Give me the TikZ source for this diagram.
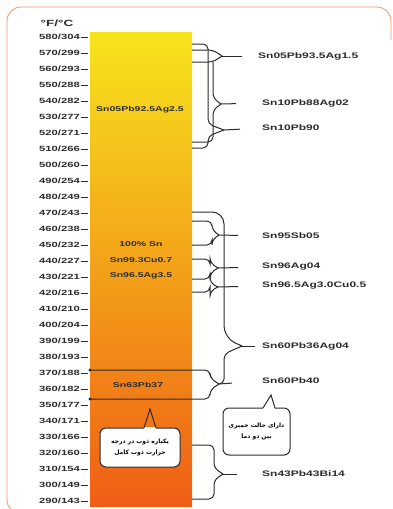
\documentclass[tikz,border=0pt]{standalone}
\usepackage{fontspec}
\setmainfont{Liberation Sans}[FakeStretch=1.5]
\newfontfamily\farsi[Script=Arabic]{DejaVu Sans}
\TeXXeTstate=1
\definecolor{framec}{HTML}{EE9A6C}
\definecolor{bartop}{HTML}{F7E41C}
\definecolor{barmid}{HTML}{F8AE1E}
\definecolor{barbot}{HTML}{EF5E16}
\definecolor{ink}{HTML}{2B2B2B}
\tikzset{
  degree/.style={anchor=east, inner sep=0pt, text=ink, font=\fontsize{7.5}{8}\selectfont\bfseries},
  alloy/.style={anchor=west, inner sep=0pt, text=ink, font=\fontsize{8}{9}\selectfont\bfseries},
  inbar/.style={inner sep=0pt, text=ink, font=\fontsize{7}{8}\selectfont\bfseries},
  bracket/.style={draw=ink, line width=1pt, rounded corners=5pt},
  callout/.style={draw=ink, fill=white, line width=1pt, rounded corners=6pt, align=center,
    font=\farsi\fontsize{6}{11}\selectfont\bfseries}
}
\begin{document}
\begin{tikzpicture}[x=1pt,y=-1pt]
\useasboundingbox (0,0) rectangle (393,509);
\draw[framec, line width=0.9pt, rounded corners=14pt] (40,514) -- (7,514) -- (7,7) -- (391,7) -- (391,40);

\node[inbar, font=\fontsize{9}{10}\selectfont\bfseries] (unit) at (57,23) {°F/°C};
\foreach \degf/\degc [count=\i from 0] in {580/304,570/299,560/293,550/288,540/282,530/277,520/271,510/266,500/260,490/254,480/249,470/243,460/238,450/232,440/227,430/221,420/216,410/210,400/204,390/199,380/193,370/188,360/182,350/177,340/171,330/166,320/160,310/154,300/149,290/143}{
  \node[degree] (t\i) at (80,{37+16*\i}) {\degf/\degc};
  \draw[ink, line width=0.7pt] ([xshift=1pt]t\i.east) -- ++(7,0);
}

\shade[top color=bartop, middle color=barmid, bottom color=barbot] (90,32) rectangle (192,506);

\node[inbar] (sn05in) at (140,110) {Sn05Pb92.5Ag2.5};
\node[inbar] (snpure) at (141,244) {100\% Sn};
\node[inbar] (sncu) at (141,260) {Sn99.3Cu0.7};
\node[inbar] (snag) at (141,276) {Sn96.5Ag3.5};
\node[inbar] (sn63) at (138,385) {Sn63Pb37};

\node[alloy] (sn05) at (258,56) {Sn05Pb93.5Ag1.5};
\node[alloy] (sn10ag) at (262,103) {Sn10Pb88Ag02};
\node[alloy] (sn10) at (262,128) {Sn10Pb90};
\node[alloy] (sn95) at (262,236) {Sn95Sb05};
\node[alloy] (sn96) at (262,267) {Sn96Ag04};
\node[alloy] (sn965) at (262,286) {Sn96.5Ag3.0Cu0.5};
\node[alloy] (sn60ag) at (262,346) {Sn60Pb36Ag04};
\node[alloy] (sn60) at (262,381) {Sn60Pb40};
\node[alloy] (sn43) at (262,474) {Sn43Pb43Bi14};

\coordinate (tipA) at (222,56);
\coordinate (tipB) at (221,104);
\coordinate (tipC) at (224,130);
\coordinate (tipD) at (219,235);
\coordinate (tipE) at (218,268);
\coordinate (tipF) at (218,287);
\coordinate (tipG) at (242,346);
\coordinate (tipH) at (219,384);
\coordinate (tipI) at (223,474);

\draw[bracket] (192,44) -- (208,44) -- (208,124) -- (tipC);
\draw[bracket] (192,148) -- (208,148) -- (208,136) -- (tipC);
\draw[bracket] (192,50) -- (213,50) -- (tipA);
\draw[bracket] (192,62) -- (213,62) -- (tipA);
\draw[bracket] (213,62) -- (213,98) -- (tipB);
\draw[bracket] (192,142) -- (213,142) -- (213,110) -- (tipB);

\draw[bracket] (192,221) -- (212,221) -- (212,230) -- (tipD);
\draw[bracket] (192,245) -- (212,245) -- (212,240) -- (tipD);
\draw[bracket] (192,259) -- (210,259) -- (210,263) -- (tipE);
\draw[bracket] (192,279) -- (210,279) -- (210,273) -- (tipE);
\draw[bracket] (210,279) -- (210,283) -- (tipF);
\draw[bracket] (192,292) -- (210,292) -- (210,291) -- (tipF);

\draw[bracket, rounded corners=12pt] (192,212) -- (224,212) -- (224,338) -- (tipG);
\draw[bracket] (tipG) -- (224,354) -- (224,384) -- (tipH);
\draw[bracket] (90,370) -- (210,370) -- (210,378) -- (tipH);
\draw[bracket] (90,399) -- (210,399) -- (210,390) -- (tipH);
\fill[ink] (90,370) circle (1.6);
\fill[ink] (90,399) circle (1.6);

\draw[bracket] (192,445) -- (214,445) -- (214,468) -- (tipI);
\draw[bracket] (192,499) -- (214,499) -- (214,480) -- (tipI);

\draw[bracket, shorten >=16pt] (tipA) -- (sn05.west);
\draw[bracket, shorten >=26pt] (tipB) -- (sn10ag.west);
\draw[bracket, shorten >=22pt] (tipC) -- (sn10.west);
\draw[bracket, shorten >=24pt] (tipD) -- (sn95.west);
\draw[bracket, shorten >=24pt] (tipE) -- (sn96.west);
\draw[bracket, shorten >=24pt] (tipF) -- (sn965.west);
\draw[bracket, shorten >=7pt] (tipG) -- (sn60ag.west);
\draw[bracket, shorten >=30pt] (tipH) -- (sn60.west);
\draw[bracket, shorten >=25pt] (tipI) -- (sn43.west);

\node[callout, minimum width=80pt, minimum height=39pt] (eutectic) at (140,447.5)
  {\beginR یکباره ذوب در درجه\endR\\\beginR حرارت ذوب کامل\endR};
\fill[white] (144,426.5) rectangle (156,429.8);
\draw[ink, line width=1pt] (144,428) -- (150,409) -- (156,428);

\node[callout, minimum width=67pt, minimum height=47pt] (pasty) at (256.5,431.5)
  {\beginR دارای حالت خمیری\endR\\\beginR بین دو دما\endR};
\fill[white] (263,406.5) rectangle (275,409.8);
\draw[ink, line width=1pt] (263,408) -- (271,395) -- (275,408);
\end{tikzpicture}
\end{document}
